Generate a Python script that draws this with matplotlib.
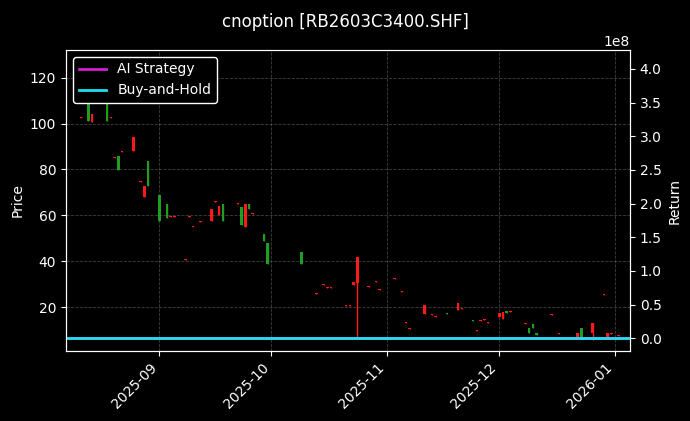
import matplotlib
matplotlib.use("Agg")
import matplotlib.pyplot as plt
import matplotlib.dates as mdates
import pandas as pd
import numpy as np

dates = ["2025-08-11","2025-08-13","2025-08-14","2025-08-18","2025-08-19","2025-08-20","2025-08-21","2025-08-22",
         "2025-08-25","2025-08-27","2025-08-28","2025-08-29","2025-09-01","2025-09-03","2025-09-04","2025-09-05",
         "2025-09-08","2025-09-09","2025-09-10","2025-09-12","2025-09-15","2025-09-16","2025-09-17","2025-09-18",
         "2025-09-22","2025-09-23","2025-09-24","2025-09-25","2025-09-26","2025-09-29","2025-09-30","2025-10-09",
         "2025-10-13","2025-10-15","2025-10-16","2025-10-17","2025-10-21","2025-10-22","2025-10-23","2025-10-24",
         "2025-10-27","2025-10-29","2025-10-30","2025-10-31","2025-11-03","2025-11-05","2025-11-06","2025-11-07",
         "2025-11-11","2025-11-13","2025-11-14","2025-11-17","2025-11-20","2025-11-21","2025-11-24","2025-11-25",
         "2025-11-26","2025-11-27","2025-11-28","2025-12-01","2025-12-02","2025-12-03","2025-12-04","2025-12-08",
         "2025-12-09","2025-12-10","2025-12-11","2025-12-15","2025-12-17","2025-12-22","2025-12-23","2025-12-26",
         "2025-12-29","2025-12-30","2025-12-31","2026-01-02"]
opens = [102.4,110.4,100.5,113.0,102.4,85.2,86.0,87.8,88.0,74.6,68.0,83.5,69.0,65.0,59.2,59.3,
         40.8,59.3,54.8,57.3,57.4,65.8,60.0,65.0,64.8,63.5,55.0,65.0,60.8,52.0,48.0,44.0,
         25.8,29.8,28.5,28.5,20.8,20.8,29.6,30.4,28.8,31.1,27.6,37.8,32.4,26.8,13.3,10.7,
         17.0,16.8,15.8,17.6,19.0,19.3,14.5,9.8,14.1,14.5,13.3,15.6,15.0,18.3,17.8,12.8,
         11.0,12.6,8.7,16.8,8.5,7.0,11.0,8.7,25.4,7.0,8.3,7.5]
closes = [102.8,100.9,104.0,101.0,102.8,85.6,79.6,88.2,94.0,75.0,73.0,72.6,57.4,59.0,59.6,59.7,
          41.2,59.7,55.2,57.7,63.0,66.2,64.0,57.4,65.2,55.7,65.0,63.0,61.2,49.0,39.0,39.0,
          26.2,30.2,28.9,28.9,21.2,21.2,31.0,41.7,29.2,31.5,28.0,38.2,32.8,27.2,13.7,11.1,
          21.0,17.2,16.2,17.2,22.0,19.7,14.1,10.2,14.5,14.9,13.7,17.4,18.0,17.4,18.2,13.2,
          9.0,11.0,7.8,17.2,8.9,9.0,7.0,13.0,25.8,9.0,8.7,8.0]
highs = [max(o, c) for o, c in zip(opens, closes)]
lows = [min(o, c) for o, c in zip(opens, closes)]
lows[39] = 7.0
lows[71] = 5.7

ret_dates = [dates[0], dates[-1]]
ai_ret = [0.0, 0.0]
bh_ret = [0.0, 0.0]

d = pd.to_datetime(dates)
x = mdates.date2num(d)

fig = plt.figure(figsize=(6.9, 4.21), dpi=100, facecolor="black")
ax = fig.add_axes([66/690, 1-351/421, 564/690, 301/421])
ax.set_facecolor("black")
for xi, o, h, l, c in zip(x, opens, highs, lows, closes):
    col = "#ff1a1a" if c >= o else "#1f9e1f"
    ax.vlines(xi, l, h, color=col, linewidth=1)
    ax.bar(xi, max(abs(c - o), 0.4), bottom=min(o, c), width=0.7, color=col, linewidth=0)
ax.set_xlim(mdates.date2num(pd.Timestamp("2025-08-07")), mdates.date2num(pd.Timestamp("2026-01-05")))
ax.set_ylim(1, 132)
ax.set_ylabel("Price", color="white")
ax.xaxis.set_major_locator(mdates.MonthLocator())
ax.xaxis.set_major_formatter(mdates.DateFormatter("%Y-%m"))
plt.setp(ax.get_xticklabels(), rotation=45, ha="right")
ax.grid(True, color="gray", linestyle="--", linewidth=0.6, alpha=0.5)
for s in ax.spines.values():
    s.set_color("white")
ax.tick_params(colors="white")

ax2 = ax.twinx()
rd = mdates.date2num(pd.to_datetime(["2025-08-01", "2026-01-10"]))
ax2.plot(rd, ai_ret, color="#d020d0", linewidth=2, label="AI Strategy")
ax2.plot(rd, bh_ret, color="#20e0f0", linewidth=2, label="Buy-and-Hold")
ax2.set_ylim(-0.19e8, 4.28e8)
ax2.set_xlim(ax.get_xlim())
ax2.set_ylabel("Return", color="white")
ax2.tick_params(colors="white")
ax2.yaxis.get_offset_text().set_color("white")
for s in ax2.spines.values():
    s.set_color("white")
leg = ax2.legend(loc="upper left", facecolor="black", edgecolor="white", framealpha=1)
for t in leg.get_texts():
    t.set_color("white")

fig.suptitle("cnoption [RB2603C3400.SHF]", color="white", y=0.97)
fig.savefig("out.png", dpi=100, facecolor="black")
